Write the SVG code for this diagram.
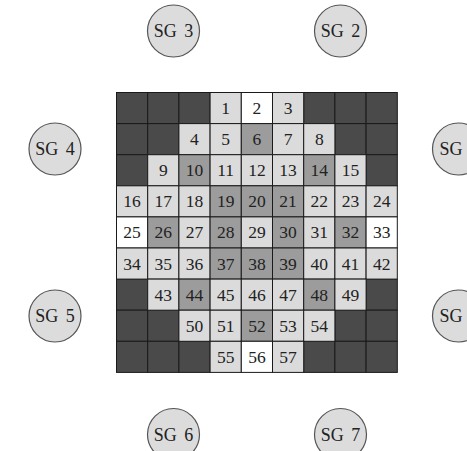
<svg xmlns="http://www.w3.org/2000/svg" width="467" height="451" viewBox="0 0 467 451" font-family="'Liberation Serif', 'DejaVu Serif', serif">
<style>
rect{stroke:#1a1a1a;stroke-width:1}
.d{fill:#4a4a4a}
.m{fill:#9c9c9c}
.l{fill:#dbdbdb}
.w{fill:#ffffff}
text{font-family:'Liberation Serif', 'DejaVu Serif', serif;font-size:17.5px;fill:#222;text-anchor:middle}
.sg circle{fill:#dcdcdc;stroke:#555;stroke-width:1.2}
.sg text{font-size:18px;word-spacing:3px}
</style>
<rect x="0" y="0" width="467" height="451" style="fill:#fff;stroke:none"/>
<g id="dark-cells">
<rect class="d" x="116.5" y="92.5" width="31.2" height="31.1"/>
<rect class="d" x="147.7" y="92.5" width="31.2" height="31.1"/>
<rect class="d" x="178.9" y="92.5" width="31.2" height="31.1"/>
<rect class="d" x="303.7" y="92.5" width="31.2" height="31.1"/>
<rect class="d" x="334.9" y="92.5" width="31.2" height="31.1"/>
<rect class="d" x="366.1" y="92.5" width="31.2" height="31.1"/>
<rect class="d" x="116.5" y="123.6" width="31.2" height="31.1"/>
<rect class="d" x="147.7" y="123.6" width="31.2" height="31.1"/>
<rect class="d" x="334.9" y="123.6" width="31.2" height="31.1"/>
<rect class="d" x="366.1" y="123.6" width="31.2" height="31.1"/>
<rect class="d" x="116.5" y="154.7" width="31.2" height="31.1"/>
<rect class="d" x="366.1" y="154.7" width="31.2" height="31.1"/>
<rect class="d" x="116.5" y="279.1" width="31.2" height="31.1"/>
<rect class="d" x="366.1" y="279.1" width="31.2" height="31.1"/>
<rect class="d" x="116.5" y="310.2" width="31.2" height="31.1"/>
<rect class="d" x="147.7" y="310.2" width="31.2" height="31.1"/>
<rect class="d" x="334.9" y="310.2" width="31.2" height="31.1"/>
<rect class="d" x="366.1" y="310.2" width="31.2" height="31.1"/>
<rect class="d" x="116.5" y="341.3" width="31.2" height="31.1"/>
<rect class="d" x="147.7" y="341.3" width="31.2" height="31.1"/>
<rect class="d" x="178.9" y="341.3" width="31.2" height="31.1"/>
<rect class="d" x="303.7" y="341.3" width="31.2" height="31.1"/>
<rect class="d" x="334.9" y="341.3" width="31.2" height="31.1"/>
<rect class="d" x="366.1" y="341.3" width="31.2" height="31.1"/>
</g>
<g id="cell-1" transform="translate(210.1,92.5)"><rect class="l" width="31.2" height="31.1"/><text x="15.6" y="21.5">1</text></g>
<g id="cell-2" transform="translate(241.3,92.5)"><rect class="w" width="31.2" height="31.1"/><text x="15.6" y="21.5">2</text></g>
<g id="cell-3" transform="translate(272.5,92.5)"><rect class="l" width="31.2" height="31.1"/><text x="15.6" y="21.5">3</text></g>
<g id="cell-4" transform="translate(178.9,123.6)"><rect class="l" width="31.2" height="31.1"/><text x="15.6" y="21.5">4</text></g>
<g id="cell-5" transform="translate(210.1,123.6)"><rect class="l" width="31.2" height="31.1"/><text x="15.6" y="21.5">5</text></g>
<g id="cell-6" transform="translate(241.3,123.6)"><rect class="m" width="31.2" height="31.1"/><text x="15.6" y="21.5">6</text></g>
<g id="cell-7" transform="translate(272.5,123.6)"><rect class="l" width="31.2" height="31.1"/><text x="15.6" y="21.5">7</text></g>
<g id="cell-8" transform="translate(303.7,123.6)"><rect class="l" width="31.2" height="31.1"/><text x="15.6" y="21.5">8</text></g>
<g id="cell-9" transform="translate(147.7,154.7)"><rect class="l" width="31.2" height="31.1"/><text x="15.6" y="21.5">9</text></g>
<g id="cell-10" transform="translate(178.9,154.7)"><rect class="m" width="31.2" height="31.1"/><text x="15.6" y="21.5">10</text></g>
<g id="cell-11" transform="translate(210.1,154.7)"><rect class="l" width="31.2" height="31.1"/><text x="15.6" y="21.5">11</text></g>
<g id="cell-12" transform="translate(241.3,154.7)"><rect class="l" width="31.2" height="31.1"/><text x="15.6" y="21.5">12</text></g>
<g id="cell-13" transform="translate(272.5,154.7)"><rect class="l" width="31.2" height="31.1"/><text x="15.6" y="21.5">13</text></g>
<g id="cell-14" transform="translate(303.7,154.7)"><rect class="m" width="31.2" height="31.1"/><text x="15.6" y="21.5">14</text></g>
<g id="cell-15" transform="translate(334.9,154.7)"><rect class="l" width="31.2" height="31.1"/><text x="15.6" y="21.5">15</text></g>
<g id="cell-16" transform="translate(116.5,185.8)"><rect class="l" width="31.2" height="31.1"/><text x="15.6" y="21.5">16</text></g>
<g id="cell-17" transform="translate(147.7,185.8)"><rect class="l" width="31.2" height="31.1"/><text x="15.6" y="21.5">17</text></g>
<g id="cell-18" transform="translate(178.9,185.8)"><rect class="l" width="31.2" height="31.1"/><text x="15.6" y="21.5">18</text></g>
<g id="cell-19" transform="translate(210.1,185.8)"><rect class="m" width="31.2" height="31.1"/><text x="15.6" y="21.5">19</text></g>
<g id="cell-20" transform="translate(241.3,185.8)"><rect class="m" width="31.2" height="31.1"/><text x="15.6" y="21.5">20</text></g>
<g id="cell-21" transform="translate(272.5,185.8)"><rect class="m" width="31.2" height="31.1"/><text x="15.6" y="21.5">21</text></g>
<g id="cell-22" transform="translate(303.7,185.8)"><rect class="l" width="31.2" height="31.1"/><text x="15.6" y="21.5">22</text></g>
<g id="cell-23" transform="translate(334.9,185.8)"><rect class="l" width="31.2" height="31.1"/><text x="15.6" y="21.5">23</text></g>
<g id="cell-24" transform="translate(366.1,185.8)"><rect class="l" width="31.2" height="31.1"/><text x="15.6" y="21.5">24</text></g>
<g id="cell-25" transform="translate(116.5,216.9)"><rect class="w" width="31.2" height="31.1"/><text x="15.6" y="21.5">25</text></g>
<g id="cell-26" transform="translate(147.7,216.9)"><rect class="m" width="31.2" height="31.1"/><text x="15.6" y="21.5">26</text></g>
<g id="cell-27" transform="translate(178.9,216.9)"><rect class="l" width="31.2" height="31.1"/><text x="15.6" y="21.5">27</text></g>
<g id="cell-28" transform="translate(210.1,216.9)"><rect class="m" width="31.2" height="31.1"/><text x="15.6" y="21.5">28</text></g>
<g id="cell-29" transform="translate(241.3,216.9)"><rect class="l" width="31.2" height="31.1"/><text x="15.6" y="21.5">29</text></g>
<g id="cell-30" transform="translate(272.5,216.9)"><rect class="m" width="31.2" height="31.1"/><text x="15.6" y="21.5">30</text></g>
<g id="cell-31" transform="translate(303.7,216.9)"><rect class="l" width="31.2" height="31.1"/><text x="15.6" y="21.5">31</text></g>
<g id="cell-32" transform="translate(334.9,216.9)"><rect class="m" width="31.2" height="31.1"/><text x="15.6" y="21.5">32</text></g>
<g id="cell-33" transform="translate(366.1,216.9)"><rect class="w" width="31.2" height="31.1"/><text x="15.6" y="21.5">33</text></g>
<g id="cell-34" transform="translate(116.5,248)"><rect class="l" width="31.2" height="31.1"/><text x="15.6" y="21.5">34</text></g>
<g id="cell-35" transform="translate(147.7,248)"><rect class="l" width="31.2" height="31.1"/><text x="15.6" y="21.5">35</text></g>
<g id="cell-36" transform="translate(178.9,248)"><rect class="l" width="31.2" height="31.1"/><text x="15.6" y="21.5">36</text></g>
<g id="cell-37" transform="translate(210.1,248)"><rect class="m" width="31.2" height="31.1"/><text x="15.6" y="21.5">37</text></g>
<g id="cell-38" transform="translate(241.3,248)"><rect class="m" width="31.2" height="31.1"/><text x="15.6" y="21.5">38</text></g>
<g id="cell-39" transform="translate(272.5,248)"><rect class="m" width="31.2" height="31.1"/><text x="15.6" y="21.5">39</text></g>
<g id="cell-40" transform="translate(303.7,248)"><rect class="l" width="31.2" height="31.1"/><text x="15.6" y="21.5">40</text></g>
<g id="cell-41" transform="translate(334.9,248)"><rect class="l" width="31.2" height="31.1"/><text x="15.6" y="21.5">41</text></g>
<g id="cell-42" transform="translate(366.1,248)"><rect class="l" width="31.2" height="31.1"/><text x="15.6" y="21.5">42</text></g>
<g id="cell-43" transform="translate(147.7,279.1)"><rect class="l" width="31.2" height="31.1"/><text x="15.6" y="21.5">43</text></g>
<g id="cell-44" transform="translate(178.9,279.1)"><rect class="m" width="31.2" height="31.1"/><text x="15.6" y="21.5">44</text></g>
<g id="cell-45" transform="translate(210.1,279.1)"><rect class="l" width="31.2" height="31.1"/><text x="15.6" y="21.5">45</text></g>
<g id="cell-46" transform="translate(241.3,279.1)"><rect class="l" width="31.2" height="31.1"/><text x="15.6" y="21.5">46</text></g>
<g id="cell-47" transform="translate(272.5,279.1)"><rect class="l" width="31.2" height="31.1"/><text x="15.6" y="21.5">47</text></g>
<g id="cell-48" transform="translate(303.7,279.1)"><rect class="m" width="31.2" height="31.1"/><text x="15.6" y="21.5">48</text></g>
<g id="cell-49" transform="translate(334.9,279.1)"><rect class="l" width="31.2" height="31.1"/><text x="15.6" y="21.5">49</text></g>
<g id="cell-50" transform="translate(178.9,310.2)"><rect class="l" width="31.2" height="31.1"/><text x="15.6" y="21.5">50</text></g>
<g id="cell-51" transform="translate(210.1,310.2)"><rect class="l" width="31.2" height="31.1"/><text x="15.6" y="21.5">51</text></g>
<g id="cell-52" transform="translate(241.3,310.2)"><rect class="m" width="31.2" height="31.1"/><text x="15.6" y="21.5">52</text></g>
<g id="cell-53" transform="translate(272.5,310.2)"><rect class="l" width="31.2" height="31.1"/><text x="15.6" y="21.5">53</text></g>
<g id="cell-54" transform="translate(303.7,310.2)"><rect class="l" width="31.2" height="31.1"/><text x="15.6" y="21.5">54</text></g>
<g id="cell-55" transform="translate(210.1,341.3)"><rect class="l" width="31.2" height="31.1"/><text x="15.6" y="21.5">55</text></g>
<g id="cell-56" transform="translate(241.3,341.3)"><rect class="w" width="31.2" height="31.1"/><text x="15.6" y="21.5">56</text></g>
<g id="cell-57" transform="translate(272.5,341.3)"><rect class="l" width="31.2" height="31.1"/><text x="15.6" y="21.5">57</text></g>
<g id="sg3" class="sg"><circle cx="173.5" cy="31" r="26"/><text x="173.5" y="37">SG 3</text></g>
<g id="sg2" class="sg"><circle cx="340.5" cy="31" r="26"/><text x="340.5" y="37">SG 2</text></g>
<g id="sg4" class="sg"><circle cx="55" cy="149" r="26"/><text x="55" y="155">SG 4</text></g>
<g id="sg-right-top" class="sg"><circle cx="458.5" cy="149" r="26"/><text x="439.5" y="155" style="text-anchor:start">SG</text></g>
<g id="sg5" class="sg"><circle cx="55" cy="316" r="26"/><text x="55" y="322">SG 5</text></g>
<g id="sg-right-bottom" class="sg"><circle cx="458.5" cy="316" r="26"/><text x="439.5" y="322" style="text-anchor:start">SG</text></g>
<g id="sg6" class="sg"><circle cx="173.5" cy="434.5" r="26"/><text x="173.5" y="440.5">SG 6</text></g>
<g id="sg7" class="sg"><circle cx="340.5" cy="434.5" r="26"/><text x="340.5" y="440.5">SG 7</text></g>
</svg>
